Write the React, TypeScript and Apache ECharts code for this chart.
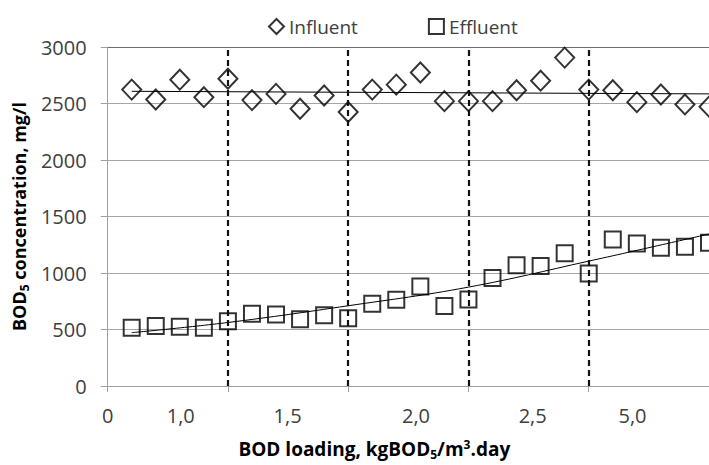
import React, { useEffect, useRef } from "react";
import * as echarts from "echarts";

const xValues = [1, 2, 3, 4, 5, 6, 7, 8, 9, 10, 11, 12, 13, 14, 15, 16, 17, 18, 19, 20, 21, 22, 23, 24, 25];
const influent = [2623, 2536, 2711, 2556, 2719, 2530, 2585, 2454, 2571, 2425, 2623, 2667, 2775, 2521, 2521, 2521, 2617, 2702, 2906, 2623, 2617, 2512, 2579, 2492, 2472];
const effluent = [515, 530, 524, 515, 574, 640, 632, 591, 626, 600, 728, 763, 880, 708, 766, 955, 1069, 1063, 1174, 996, 1296, 1261, 1224, 1232, 1267];

const influentTrendX = [1, 25];
const influentTrendY = [2608, 2585];
const effluentTrendX = [1, 5, 10, 15, 20, 25];
const effluentTrendY = [472, 562, 710, 875, 1105, 1345];

const dividerX = [5, 10, 15, 20];
const xTickValues = [0, 5, 10, 15, 20];
const xLabelPositions = [0, 3.04, 7.48, 12.82, 17.67, 21.82];
const xLabelTexts = ["0", "1,0", "1,5", "2,0", "2,5", "5,0"];

const FONT = "'Open Sans', sans-serif";
const TEXT = "#404040";

export default function App() {
  const ref = useRef<HTMLDivElement>(null);
  useEffect(() => {
    if (!ref.current) return;
    const chart = echarts.init(ref.current, null, { renderer: "svg" });
    const hollow = { color: "rgba(0,0,0,0)", borderColor: "#000", borderWidth: 2 };
    const rich = {
      sub: { fontSize: 12, fontWeight: "bold", fontFamily: FONT, color: "#000", lineHeight: 12, verticalAlign: "bottom" },
      sup: { fontSize: 12, fontWeight: "bold", fontFamily: FONT, color: "#000", lineHeight: 12, verticalAlign: "top" },
    };
    chart.setOption({
      animation: false,
      backgroundColor: "#fff",
      textStyle: { fontFamily: FONT },
      legend: {
        data: ["Influent", "Effluent"],
        left: 263,
        top: 12,
        itemWidth: 15,
        itemHeight: 15,
        itemGap: 70,
        itemStyle: { borderWidth: 2 },
        textStyle: { fontSize: 19, color: TEXT, fontFamily: FONT },
      },
      grid: { left: 107, top: 47, bottom: 75, right: -6 },
      xAxis: {
        type: "value",
        min: 0,
        max: 25,
        name: "BOD loading, kgBOD{sub|5}/m{sup|3}.day",
        nameLocation: "middle",
        nameGap: 52,
        nameTextStyle: {
          fontSize: 19,
          fontWeight: "bold",
          color: "#000",
          fontFamily: FONT,
          lineHeight: 22,
          padding: [0, 68, 0, 0],
          rich,
        },
        axisLine: { show: true, lineStyle: { color: "#a0a0a0", width: 1 } },
        axisTick: { show: true, length: 6, customValues: xTickValues, lineStyle: { color: "#a0a0a0" } },
        axisLabel: {
          customValues: xLabelPositions,
          margin: 19,
          fontSize: 20,
          color: TEXT,
          fontFamily: FONT,
          formatter: (v: number) => {
            const idx = xLabelPositions.findIndex((p) => Math.abs(p - v) < 1e-6);
            return idx >= 0 ? xLabelTexts[idx] : "";
          },
        },
        splitLine: { show: false },
      },
      yAxis: {
        type: "value",
        min: 0,
        max: 3000,
        interval: 500,
        name: "BOD{sub|5} concentration, mg/l",
        nameLocation: "middle",
        nameGap: 75,
        nameTextStyle: {
          fontSize: 18,
          fontWeight: "bold",
          color: "#000",
          fontFamily: FONT,
          lineHeight: 22,
          rich,
        },
        axisLine: { show: true, lineStyle: { color: "#a0a0a0", width: 1 } },
        axisTick: { show: true, length: 7, lineStyle: { color: "#a0a0a0" } },
        axisLabel: { margin: 21, fontSize: 20, color: TEXT, fontFamily: FONT, formatter: (v: number) => String(v) },
        splitLine: { show: true, lineStyle: { color: ["#a6a6a6", "#a6a6a6", "#a6a6a6", "#a6a6a6", "#a6a6a6", "#a6a6a6", "#6e6e6e"], width: 1 } },
      },
      series: [
        {
          name: "influentTrend",
          type: "line",
          data: influentTrendX.map((x, i) => [x, influentTrendY[i]]),
          showSymbol: false,
          lineStyle: { color: "#000", width: 1 },
          silent: true,
          z: 1,
        },
        {
          name: "effluentTrend",
          type: "line",
          data: effluentTrendX.map((x, i) => [x, effluentTrendY[i]]),
          showSymbol: false,
          smooth: 0.4,
          lineStyle: { color: "#000", width: 1 },
          silent: true,
          z: 1,
        },
        {
          name: "Influent",
          type: "scatter",
          symbol: "diamond",
          symbolSize: [19, 20],
          data: xValues.map((x, i) => [x, influent[i]]),
          itemStyle: hollow,
          z: 3,
          markLine: {
            silent: true,
            symbol: "none",
            label: { show: false },
            lineStyle: { color: "#111", type: [6, 4], width: 2.2 },
            data: dividerX.map((x) => ({ xAxis: x })),
          },
        },
        {
          name: "Effluent",
          type: "scatter",
          symbol: "rect",
          symbolSize: 16,
          data: xValues.map((x, i) => [x, effluent[i]]),
          itemStyle: hollow,
          z: 3,
        },
      ],
    });
    return () => chart.dispose();
  }, []);
  return <div ref={ref} style={{ position: "absolute", left: 0, top: 0, width: 709, height: 465 }} />;
}
